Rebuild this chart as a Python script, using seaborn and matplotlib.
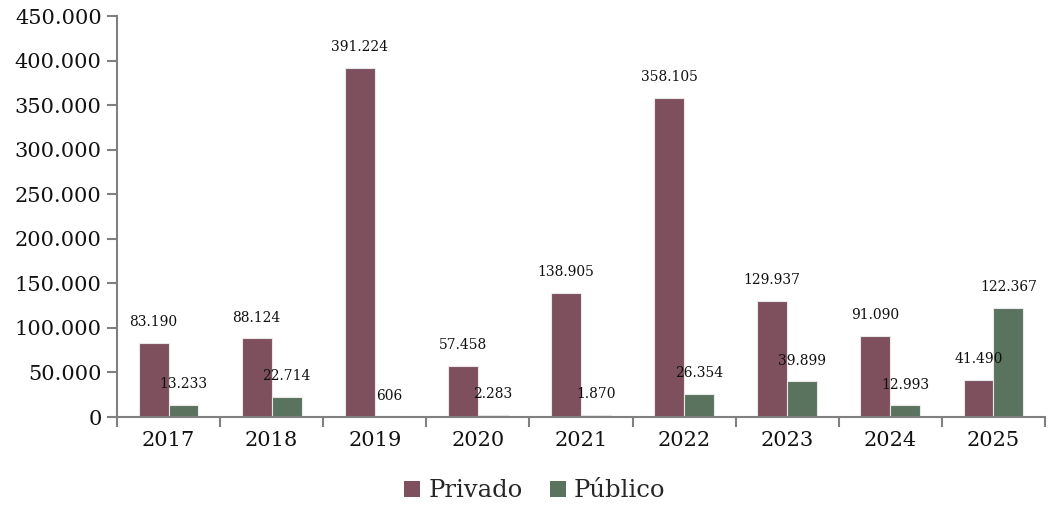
import matplotlib
matplotlib.use("Agg")
import matplotlib.pyplot as plt
import seaborn as sns
import pandas as pd
import numpy as np
from matplotlib.ticker import FuncFormatter, FixedLocator
from matplotlib.patches import Patch

years = ["2017", "2018", "2019", "2020", "2021", "2022", "2023", "2024", "2025"]
privado = [83190, 88124, 391224, 57458, 138905, 358105, 129937, 91090, 41490]
publico = [13233, 22714, 606, 2283, 1870, 26354, 39899, 12993, 122367]
series = ["Privado", "Público"]
colors = ["#7E4F5C", "#5A735E"]

df = pd.DataFrame({
    "Año": years * 2,
    "Valor": privado + publico,
    "Sector": [series[0]] * len(years) + [series[1]] * len(years),
})

sns.set_theme(style="white")
plt.rcParams["font.family"] = ["DejaVu Serif"]

fig = plt.figure(figsize=(10.52, 5.08), dpi=100)
ax = fig.add_axes([0.1112, 0.1791, 0.8822, 0.7894])

sns.barplot(data=df, x="Año", y="Valor", hue="Sector", palette=colors,
            width=0.58, gap=0, ax=ax, legend=False,
            edgecolor="#E8E8E8", linewidth=0.8, saturation=1)


def fmt(v, pos=None):
    return f"{int(round(v)):,}".replace(",", ".")


for cont in ax.containers:
    ax.bar_label(cont, labels=[fmt(b.get_height()) for b in cont],
                 padding=10, fontsize=10, color="#111111")

ax.set_ylim(0, 450000)
ax.set_xlim(-0.5, len(years) - 0.5)
ax.set_yticks(np.arange(0, 450001, 50000))
ax.yaxis.set_major_formatter(FuncFormatter(fmt))
ax.set_xlabel("")
ax.set_ylabel("")

ax.xaxis.set_minor_locator(FixedLocator(np.arange(-0.5, len(years), 1.0)))
ax.tick_params(axis="x", which="major", length=0, labelsize=15, pad=10, colors="#111111")
ax.tick_params(axis="x", which="minor", length=7, width=1.5, color="#808080", bottom=True)
ax.tick_params(axis="y", which="major", length=7, width=1.5, color="#808080",
               labelsize=15, pad=4, left=True, labelcolor="#111111")

for side in ["top", "right"]:
    ax.spines[side].set_visible(False)
for side in ["left", "bottom"]:
    ax.spines[side].set_color("#808080")
    ax.spines[side].set_linewidth(1.5)

handles = [Patch(facecolor=c, edgecolor="none") for c in colors]
fig.legend(handles, series, loc="center", bbox_to_anchor=(0.5086, 0.034), ncol=2,
           frameon=False, fontsize=17.5, handlelength=0.65, handleheight=0.65,
           handletextpad=0.35, columnspacing=1.1)

fig.savefig("out.png", dpi=100, facecolor="white")
